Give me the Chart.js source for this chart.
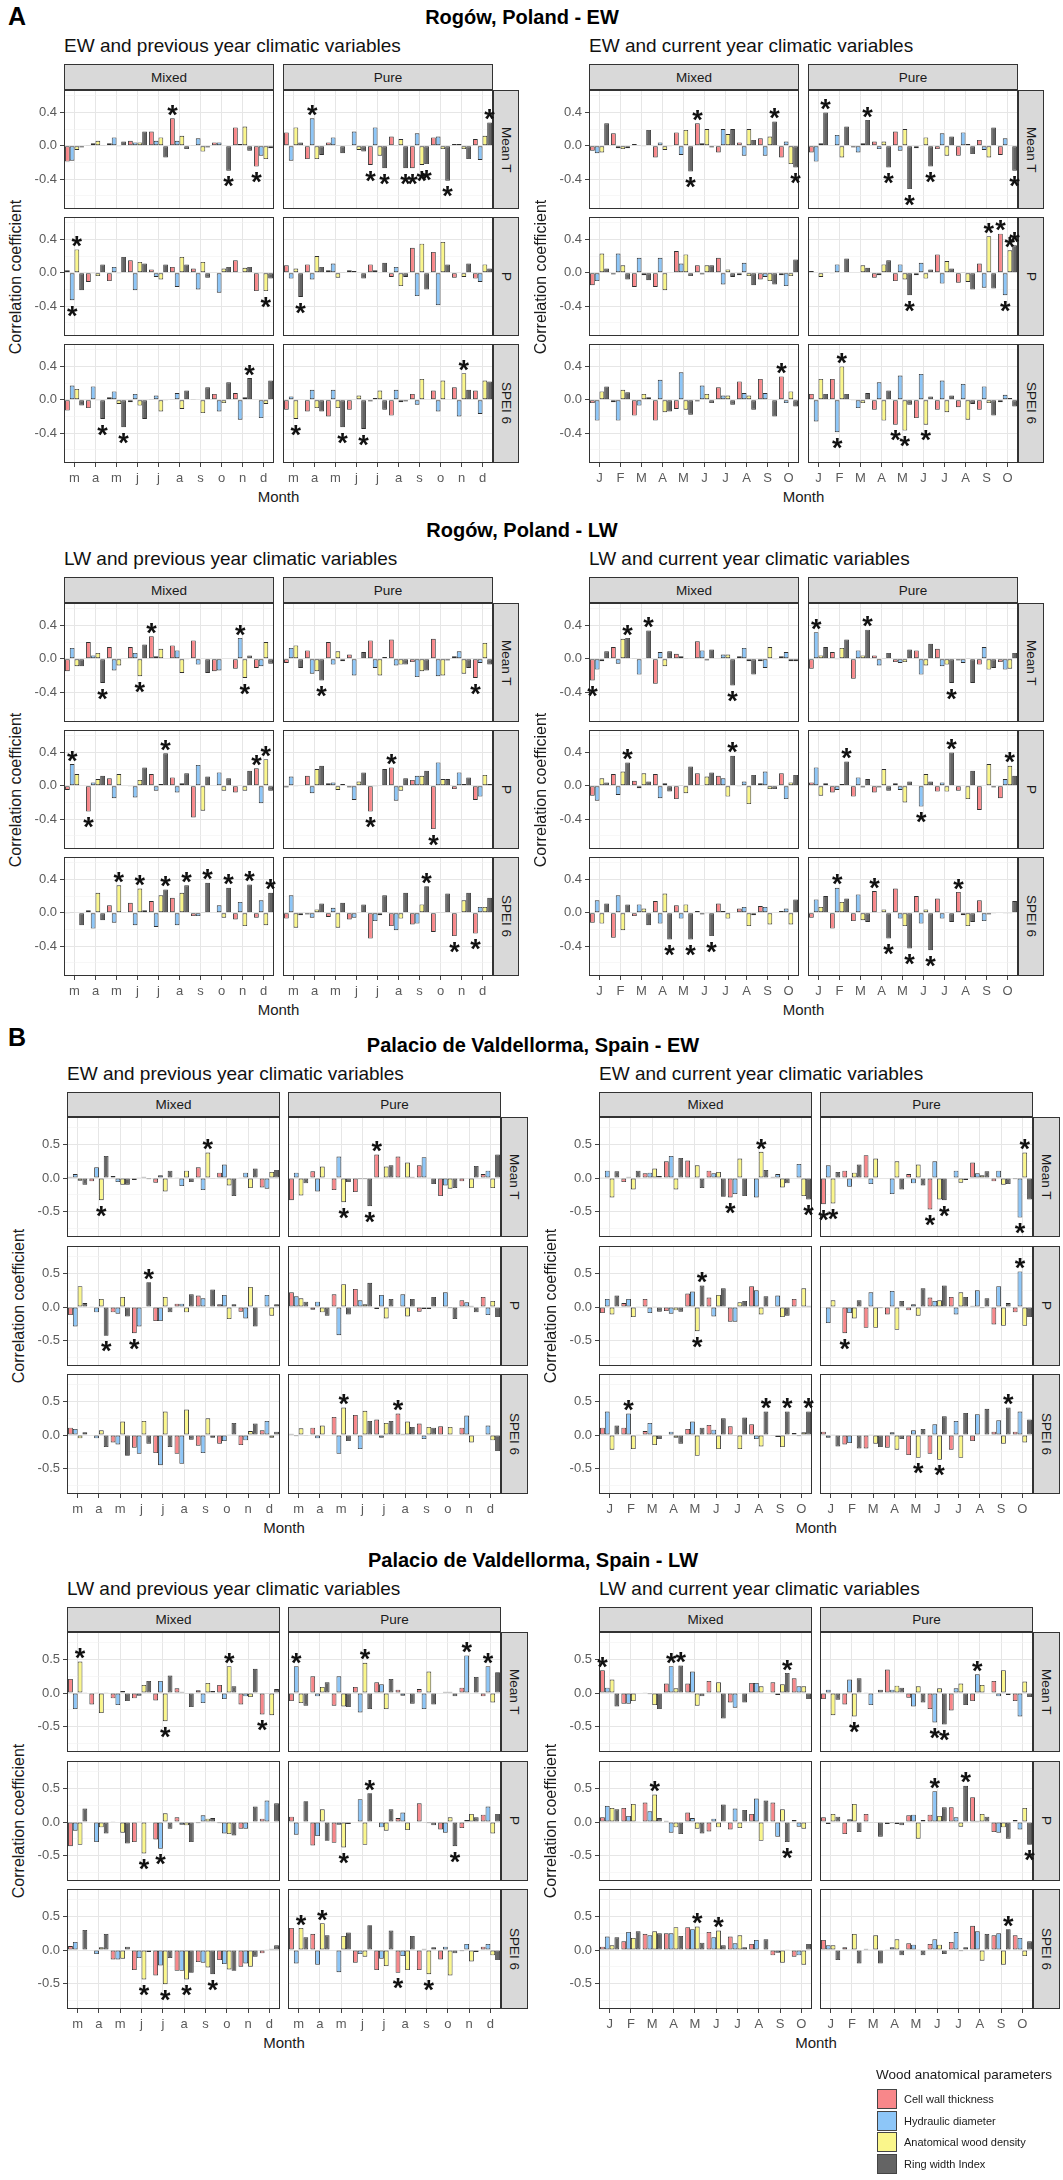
<!DOCTYPE html>
<html>
<head>
<meta charset="utf-8">
<script src="https://cdn.jsdelivr.net/npm/chart.js@4.4.1/dist/chart.umd.min.js"></script>
<style>
  body { margin: 0; background: #fff; font-family: "Liberation Sans", Arial, sans-serif; }
  #fig { position: relative; width: 1063px; height: 2180px; overflow: hidden; }
  .t { position: absolute; white-space: nowrap; line-height: 1; color: #000; }
  .strip { position: absolute; box-sizing: border-box; background: #D9D9D9; border: 1px solid #333;
           display: flex; align-items: center; justify-content: center; font-size: 13.5px; color: #1A1A1A; }
  .strip.v span { writing-mode: vertical-rl; }
  canvas { position: absolute; }
</style>
</head>
<body>
<div id="fig"></div>
<script>
// months, series and tick values
const prevMonths = ['m', 'a', 'm', 'j', 'j', 'a', 's', 'o', 'n', 'd'];
const curMonths = ['J', 'F', 'M', 'A', 'M', 'J', 'J', 'A', 'S', 'O'];
const seriesNames = ['Cell wall thickness', 'Hydraulic diameter', 'Anatomical wood density', 'Ring width Index'];
const stands = ['Mixed', 'Pure'];
const variables = ['Mean T', 'P', 'SPEI 6'];
const rogowTicks = [-0.6, -0.4, -0.2, 0, 0.2, 0.4, 0.6];
const palacioTicks = [-0.75, -0.5, -0.25, 0, 0.25, 0.5, 0.75];

// each row = one month: [cell wall, hydraulic diam., wood density, ring width]
// *Sig = [month, series] pairs marked with an asterisk

// ---- Rogów EW, previous year
const rogEwPrevMixT = [[-0.19,-0.18,-0.05,-0.02],[0.01,0.03,0.06,0.01],[0.03,0.10,-0.01,0.05],[0.06,0.04,0.04,0.17],[0.17,0.06,0.10,-0.14],[0.33,0.06,0.12,-0.04],[0.01,0.09,-0.07,-0.02],[0.04,0.04,0.00,-0.30],[0.22,0.02,0.23,-0.06],[-0.25,-0.12,-0.16,-0.03]];
const rogEwPrevPurT = [[0.16,-0.18,0.22,0.04],[-0.16,0.33,-0.16,-0.11],[0.04,0.10,0.01,-0.09],[0.00,0.17,-0.05,-0.07],[-0.23,0.22,-0.12,-0.27],[0.11,0.01,0.08,-0.27],[-0.27,0.15,-0.23,-0.22],[0.10,0.11,-0.04,-0.42],[0.02,0.02,-0.04,-0.16],[0.08,-0.17,0.12,0.28]];
const rogEwPrevMixP = [[0.03,-0.33,0.28,-0.21],[-0.11,-0.01,-0.04,0.10],[-0.10,0.07,-0.01,0.19],[0.15,-0.21,0.13,0.11],[0.04,-0.05,-0.08,0.10],[0.07,-0.17,0.19,0.10],[0.05,-0.20,0.13,-0.06],[0.00,-0.24,0.05,0.07],[0.15,0.00,0.06,0.07],[-0.22,-0.01,-0.22,-0.07]];
const rogEwPrevPurP = [[0.09,-0.07,0.05,-0.29],[0.10,-0.08,0.20,0.07],[0.03,0.11,-0.06,0.01],[0.03,0.02,0.00,-0.07],[0.10,0.03,0.00,0.12],[-0.05,0.07,-0.16,-0.05],[0.30,-0.28,0.35,-0.20],[0.25,-0.39,0.37,0.10],[-0.06,0.00,-0.05,0.11],[-0.07,-0.11,0.10,0.05]];
const rogEwPrevMixS = [[-0.13,0.17,0.13,-0.07],[-0.10,0.16,-0.01,-0.23],[0.03,0.10,-0.05,-0.33],[-0.03,0.07,-0.07,-0.23],[0.01,0.05,-0.14,-0.01],[0.01,0.08,-0.11,0.11],[0.01,0.00,-0.16,0.15],[0.07,-0.14,-0.04,0.21],[0.08,-0.24,0.03,0.26],[0.00,-0.22,-0.05,0.23]];
const rogEwPrevPurS = [[-0.12,0.04,-0.23,0.00],[-0.14,0.12,-0.10,-0.14],[-0.20,0.12,-0.10,-0.33],[-0.12,0.00,0.05,-0.35],[-0.02,0.02,0.11,-0.12],[-0.19,0.12,-0.03,-0.02],[0.07,-0.06,0.25,0.00],[0.11,-0.14,0.23,0.00],[0.15,-0.20,0.32,0.12],[0.11,-0.17,0.23,0.22]];
const rogEwPrevMixTSig = [[5,0],[7,3],[9,0]];
const rogEwPrevPurTSig = [[1,1],[4,0],[4,3],[5,3],[6,0],[6,2],[6,3],[7,3],[9,3]];
const rogEwPrevMixPSig = [[0,1],[0,2],[9,2]];
const rogEwPrevPurPSig = [[0,3]];
const rogEwPrevMixSSig = [[1,3],[2,3],[8,3]];
const rogEwPrevPurSSig = [[0,2],[2,3],[3,3],[8,2]];

// ---- Rogów EW, current year
const rogEwCurMixT = [[-0.06,-0.09,-0.08,0.27],[0.15,-0.03,-0.04,-0.03],[0.02,0.01,-0.01,0.19],[-0.14,0.04,-0.05,-0.01],[0.16,-0.11,0.19,-0.31],[0.27,0.03,0.20,-0.02],[-0.08,0.20,0.14,0.20],[0.04,-0.12,0.20,0.07],[0.09,-0.12,0.11,0.29],[-0.14,0.05,-0.22,-0.26]];
const rogEwCurPurT = [[-0.08,-0.19,0.03,0.40],[0.00,0.13,-0.14,0.23],[-0.02,-0.08,0.03,0.31],[0.05,-0.04,0.05,-0.26],[0.17,-0.06,0.20,-0.52],[-0.03,0.00,0.10,-0.25],[-0.04,0.15,-0.12,0.11],[-0.12,0.16,0.02,-0.10],[0.07,-0.05,-0.14,0.22],[-0.11,0.09,0.00,-0.30]];
const rogEwCurMixP = [[-0.15,-0.10,0.23,0.05],[-0.02,0.23,0.09,-0.08],[-0.17,0.18,-0.03,-0.09],[-0.17,0.18,-0.21,0.00],[0.26,0.11,0.22,-0.04],[0.09,-0.02,0.09,0.09],[0.18,-0.14,0.04,-0.05],[-0.03,0.12,-0.04,-0.15],[-0.08,-0.05,-0.10,-0.14],[-0.03,-0.16,-0.04,0.16]];
const rogEwCurPurP = [[0.02,0.00,-0.05,0.01],[-0.01,0.10,0.00,0.17],[0.00,0.00,0.09,0.06],[-0.06,-0.03,0.10,0.15],[-0.10,0.10,-0.08,-0.27],[-0.03,0.12,-0.07,0.04],[0.22,-0.13,0.14,0.05],[-0.12,0.01,-0.11,-0.20],[0.11,-0.18,0.44,-0.19],[0.47,-0.27,0.27,0.33]];
const rogEwCurMixS = [[-0.04,-0.25,0.10,0.16],[-0.03,-0.25,0.12,0.09],[-0.19,-0.07,0.07,0.03],[-0.25,0.24,-0.15,-0.14],[-0.11,0.33,-0.12,-0.18],[-0.02,0.17,0.07,-0.04],[0.15,0.05,0.05,-0.06],[0.22,0.08,0.05,-0.12],[0.25,0.08,0.00,-0.20],[0.28,-0.04,0.10,-0.08]];
const rogEwCurPurS = [[0.07,-0.26,0.25,0.07],[0.25,-0.39,0.40,0.07],[-0.01,-0.10,-0.04,0.08],[-0.12,0.21,-0.25,0.11],[-0.30,0.29,-0.37,-0.06],[-0.22,0.31,-0.30,0.04],[-0.12,0.23,-0.15,0.05],[-0.09,0.19,-0.24,-0.05],[-0.12,0.16,-0.04,-0.19],[-0.03,0.06,0.02,-0.08]];
const rogEwCurMixTSig = [[4,3],[5,0],[8,3],[9,3]];
const rogEwCurPurTSig = [[0,3],[2,3],[3,3],[4,3],[5,3],[9,3]];
const rogEwCurMixPSig = [];
const rogEwCurPurPSig = [[4,3],[8,2],[9,0],[9,1],[9,2],[9,3]];
const rogEwCurMixSSig = [[9,0]];
const rogEwCurPurSSig = [[1,1],[1,2],[4,0],[4,2],[5,2]];

// ---- Rogów LW, previous year
const rogLwPrevMixT = [[-0.15,0.13,-0.09,-0.09],[0.20,0.04,0.07,-0.29],[0.14,-0.14,-0.08,0.00],[0.14,0.07,-0.21,0.17],[0.27,0.03,0.12,0.00],[0.16,0.10,-0.17,-0.01],[0.22,-0.07,0.00,-0.17],[-0.15,-0.14,0.00,0.00],[-0.12,0.25,-0.23,0.04],[-0.11,-0.09,0.20,-0.06]];
const rogLwPrevPurT = [[-0.05,0.13,0.16,-0.11],[0.10,-0.18,-0.15,-0.26],[0.20,-0.07,0.09,-0.03],[0.05,-0.20,0.00,0.08],[0.22,-0.11,-0.20,0.02],[0.23,-0.08,-0.07,-0.07],[-0.04,-0.22,-0.15,-0.14],[0.24,-0.21,-0.20,-0.02],[0.03,0.09,-0.18,-0.11],[-0.23,-0.05,0.19,-0.07]];
const rogLwPrevMixP = [[-0.05,0.26,0.14,0.00],[-0.31,0.04,0.08,0.12],[0.09,-0.15,0.14,0.00],[-0.01,-0.14,0.07,0.22],[0.14,-0.06,0.02,0.39],[0.10,-0.08,0.03,0.15],[-0.38,0.25,-0.30,0.11],[0.00,0.16,-0.06,0.09],[-0.08,0.00,-0.06,0.18],[0.21,-0.21,0.32,-0.06]];
const rogLwPrevPurP = [[-0.02,0.11,-0.01,0.00],[0.12,-0.09,0.20,0.24],[0.03,0.04,-0.05,0.02],[-0.02,-0.17,0.05,0.16],[-0.31,-0.01,0.00,0.20],[0.22,-0.18,-0.06,0.09],[0.07,0.12,0.12,0.18],[-0.52,0.28,0.08,0.08],[-0.04,0.16,0.02,0.10],[-0.17,-0.13,0.13,0.02]];
const rogLwPrevMixS = [[-0.01,0.01,0.00,-0.15],[0.03,-0.19,0.24,-0.09],[0.09,-0.12,0.33,0.01],[0.12,-0.15,0.29,0.03],[0.14,-0.17,0.21,0.28],[0.18,-0.15,0.24,0.33],[-0.04,-0.04,0.01,0.36],[0.00,0.09,-0.06,0.30],[-0.08,0.13,-0.16,0.34],[-0.06,0.15,-0.15,0.24]];
const rogLwPrevPurS = [[-0.07,0.21,-0.18,-0.03],[-0.02,-0.06,0.04,0.11],[-0.05,0.06,-0.18,0.12],[-0.08,-0.06,0.00,0.10],[-0.31,-0.10,-0.03,0.21],[-0.16,-0.21,-0.07,0.24],[-0.14,-0.13,0.10,0.32],[-0.23,0.01,0.01,0.23],[-0.28,0.00,0.15,0.24],[-0.25,0.07,0.07,0.18]];
const rogLwPrevMixTSig = [[1,3],[3,2],[4,0],[8,1],[8,2]];
const rogLwPrevPurTSig = [[1,3],[9,0]];
const rogLwPrevMixPSig = [[0,1],[1,0],[4,3],[9,0],[9,2]];
const rogLwPrevPurPSig = [[4,0],[5,0],[7,0]];
const rogLwPrevMixSSig = [[2,2],[3,2],[4,3],[5,3],[6,3],[7,3],[8,3],[9,3]];
const rogLwPrevPurSSig = [[6,3],[8,0],[9,0]];

// ---- Rogów LW, current year
const rogLwCurMixT = [[-0.26,-0.13,-0.03,0.09],[0.14,-0.06,0.24,0.25],[0.01,-0.19,0.00,0.34],[-0.30,0.08,-0.09,0.09],[0.06,0.03,0.01,0.00],[0.21,0.10,-0.02,0.11],[0.00,0.05,0.05,-0.32],[0.03,0.13,-0.03,-0.19],[-0.03,-0.11,0.14,-0.01],[0.03,0.08,-0.03,-0.03]];
const rogLwCurPurT = [[-0.12,0.32,0.04,0.14],[0.08,-0.01,0.13,0.23],[-0.24,0.10,0.04,0.35],[0.04,-0.08,0.01,0.07],[-0.04,-0.05,-0.04,0.11],[0.10,-0.19,-0.08,0.18],[0.12,-0.09,-0.07,-0.29],[-0.02,-0.05,0.01,-0.29],[-0.07,0.14,-0.13,-0.11],[-0.04,-0.13,-0.12,0.07]];
const rogLwCurMixP = [[-0.12,-0.18,0.09,0.04],[0.14,-0.11,0.17,0.28],[0.06,-0.03,0.15,0.05],[0.14,-0.15,0.03,-0.07],[-0.16,0.01,-0.09,0.23],[0.15,0.00,0.11,0.16],[0.12,0.09,-0.13,0.36],[-0.01,0.05,-0.22,0.13],[0.03,0.17,-0.04,-0.04],[0.15,-0.16,0.04,0.13]];
const rogLwCurPurP = [[0.04,0.22,-0.12,0.03],[-0.08,-0.05,0.02,0.29],[-0.13,0.10,-0.02,0.08],[-0.08,-0.02,0.20,-0.06],[0.03,-0.05,-0.20,0.05],[0.00,-0.25,0.14,0.05],[-0.07,0.04,-0.07,0.40],[-0.06,0.00,-0.16,0.18],[-0.29,0.00,0.26,-0.02],[-0.15,0.08,0.24,0.12]];
const rogLwCurMixS = [[-0.12,0.15,-0.13,0.11],[-0.30,0.21,-0.21,0.10],[-0.04,0.10,0.05,-0.15],[0.14,-0.13,0.23,-0.32],[0.09,-0.07,0.10,-0.32],[0.02,-0.02,-0.01,-0.28],[0.11,0.02,-0.07,0.00],[0.05,0.07,-0.16,-0.03],[0.08,0.07,-0.14,0.00],[0.02,0.05,-0.14,0.16]];
const rogLwCurPurS = [[-0.06,0.16,0.07,0.20],[-0.19,0.30,0.13,0.17],[-0.10,0.22,-0.09,-0.11],[0.26,0.00,0.04,-0.31],[0.29,-0.07,-0.16,-0.43],[0.20,-0.13,0.04,-0.45],[0.17,-0.07,0.01,-0.11],[0.25,-0.03,-0.16,-0.11],[0.15,-0.10,-0.02,-0.01],[0.00,-0.01,-0.01,0.14]];
const rogLwCurMixTSig = [[0,0],[1,3],[2,3],[6,3]];
const rogLwCurPurTSig = [[0,1],[2,3],[6,3]];
const rogLwCurMixPSig = [[1,3],[6,3]];
const rogLwCurPurPSig = [[1,3],[5,1],[6,3],[9,2]];
const rogLwCurMixSSig = [[3,3],[4,3],[5,3]];
const rogLwCurPurSSig = [[1,1],[3,0],[3,3],[4,3],[5,3],[7,0]];

// ---- Palacio de Valdellorma EW, previous year
const palEwPrevMixT = [[0.02,0.06,-0.04,-0.10],[-0.05,0.16,-0.33,0.33],[0.03,-0.06,-0.10,-0.10],[-0.03,0.01,0.02,-0.02],[-0.07,0.04,-0.20,0.11],[0.01,-0.12,0.11,-0.06],[0.16,-0.18,0.38,-0.01],[0.08,0.20,-0.11,-0.27],[0.01,0.08,-0.15,0.14],[-0.14,-0.16,0.09,0.12]];
const palEwPrevPurT = [[-0.33,0.08,-0.26,-0.08],[0.10,-0.20,0.17,0.00],[-0.18,0.32,-0.36,-0.06],[-0.21,-0.02,-0.02,-0.42],[0.35,0.01,0.17,0.19],[0.32,0.01,0.23,0.02],[0.19,0.31,0.01,-0.09],[-0.27,-0.11,-0.16,-0.15],[-0.05,0.00,-0.15,0.18],[0.06,0.11,-0.15,0.35]];
const palEwPrevMixP = [[-0.12,-0.29,0.31,0.06],[0.01,-0.08,0.12,-0.43],[-0.08,-0.10,0.15,-0.14],[-0.39,-0.29,-0.01,0.37],[-0.21,-0.21,0.15,-0.08],[0.05,0.05,-0.08,0.19],[0.17,0.13,-0.01,0.26],[0.04,0.18,-0.18,0.04],[-0.07,-0.17,0.30,-0.29],[0.00,0.18,-0.13,0.04]];
const palEwPrevPurP = [[0.22,0.16,0.13,0.08],[-0.04,0.08,-0.08,-0.13],[0.19,-0.42,0.34,-0.11],[0.27,0.10,0.04,0.36],[-0.03,0.18,-0.17,0.12],[0.00,0.19,-0.14,0.12],[-0.07,-0.03,-0.03,0.15],[0.00,0.22,-0.02,-0.18],[0.10,0.07,0.02,-0.08],[0.15,-0.12,0.09,-0.15]];
const palEwPrevMixS = [[0.11,0.09,-0.05,0.04],[0.00,-0.05,0.07,-0.18],[-0.11,-0.14,0.20,-0.31],[-0.19,-0.28,0.21,-0.13],[-0.27,-0.45,0.35,-0.18],[-0.28,-0.43,0.38,-0.07],[-0.16,-0.27,0.25,-0.04],[-0.13,-0.09,0.01,0.18],[-0.15,-0.08,0.06,0.17],[0.07,0.21,-0.04,0.05]];
const palEwPrevPurS = [[0.02,-0.02,0.10,-0.01],[0.11,-0.05,0.14,0.00],[0.27,-0.28,0.41,-0.09],[0.30,-0.21,0.36,0.21],[0.23,-0.04,0.18,0.21],[0.32,0.02,0.20,0.12],[0.17,-0.06,0.12,0.11],[0.13,-0.01,0.12,0.00],[0.11,0.29,-0.11,0.00],[0.00,0.14,-0.08,-0.24]];
const palEwPrevMixTSig = [[1,2],[6,2]];
const palEwPrevPurTSig = [[2,2],[3,3],[4,0]];
const palEwPrevMixPSig = [[1,3],[3,0],[3,3]];
const palEwPrevPurPSig = [];
const palEwPrevMixSSig = [];
const palEwPrevPurSSig = [[2,2],[5,0]];

// ---- Palacio de Valdellorma EW, current year
const palEwCurMixT = [[0.01,0.11,-0.29,0.10],[-0.06,0.02,-0.17,0.11],[0.07,0.08,0.14,0.03],[0.25,0.33,-0.17,0.30],[0.26,0.01,0.19,-0.15],[0.11,0.07,0.09,-0.28],[-0.29,-0.24,0.29,-0.27],[0.00,-0.29,0.39,0.12],[0.02,0.06,-0.14,-0.08],[0.00,0.21,-0.27,-0.32]];
const palEwCurPurT = [[-0.39,0.19,-0.38,0.09],[0.11,-0.13,0.08,0.20],[0.34,-0.09,0.29,0.00],[0.00,-0.24,0.25,-0.17],[0.06,-0.08,0.20,-0.11],[-0.47,0.25,-0.32,-0.33],[0.00,0.11,-0.07,-0.03],[0.23,0.07,0.04,0.10],[-0.05,0.11,-0.10,-0.09],[-0.02,-0.59,0.38,-0.32]];
const palEwCurMixP = [[-0.09,0.12,-0.11,0.17],[0.06,0.12,-0.15,0.01],[0.12,-0.09,0.01,-0.07],[-0.06,-0.10,-0.05,-0.07],[0.20,0.23,-0.36,0.32],[0.14,-0.14,0.18,0.28],[-0.22,-0.22,0.07,0.09],[0.31,0.25,-0.11,0.16],[-0.01,0.17,-0.15,-0.13],[0.12,0.00,0.28,0.02]];
const palEwCurPurP = [[0.00,-0.24,0.10,0.00],[-0.39,-0.09,-0.17,0.10],[-0.31,0.22,-0.31,-0.02],[-0.11,0.24,-0.34,0.09],[-0.05,0.04,-0.13,0.28],[0.14,0.09,0.10,0.32],[0.15,-0.11,0.22,0.15],[0.02,0.25,-0.02,0.13],[-0.26,0.31,-0.28,0.06],[-0.08,0.53,-0.28,-0.15]];
const palEwCurMixS = [[0.11,0.35,-0.22,0.14],[0.11,0.32,-0.21,0.01],[0.06,0.18,-0.15,-0.06],[0.00,0.05,-0.04,-0.13],[0.09,0.20,-0.31,0.11],[0.15,0.08,-0.21,0.25],[0.13,-0.01,-0.21,0.26],[0.16,-0.06,-0.17,0.35],[-0.01,-0.03,-0.18,0.35],[0.03,-0.02,0.04,0.35]];
const palEwCurPurS = [[0.05,-0.04,0.01,-0.17],[-0.14,-0.12,-0.01,-0.20],[-0.20,0.01,-0.13,-0.18],[-0.19,0.04,-0.22,-0.06],[-0.30,0.07,-0.34,0.09],[-0.28,0.16,-0.37,0.28],[-0.22,0.21,-0.34,0.33],[-0.09,0.31,0.00,0.39],[0.05,0.22,-0.13,0.41],[0.05,0.35,-0.11,0.23]];
const palEwCurMixTSig = [[6,0],[7,2],[9,3]];
const palEwCurPurTSig = [[0,0],[0,2],[5,0],[5,3],[9,1],[9,2]];
const palEwCurMixPSig = [[4,2],[4,3]];
const palEwCurPurPSig = [[1,0],[9,1]];
const palEwCurMixSSig = [[1,1],[7,3],[8,3],[9,3]];
const palEwCurPurSSig = [[4,2],[5,2],[8,3]];

// ---- Palacio de Valdellorma LW, previous year
const palLwPrevMixT = [[0.21,-0.24,0.47,0.01],[-0.17,0.01,-0.30,0.01],[-0.08,-0.18,0.03,-0.12],[-0.08,-0.04,0.12,0.18],[-0.11,0.18,-0.42,0.26],[0.07,0.02,-0.01,-0.21],[0.04,-0.15,0.15,0.03],[0.12,-0.09,0.40,0.10],[-0.17,-0.05,-0.06,0.36],[-0.32,-0.01,-0.33,0.06]];
const palLwPrevPurT = [[-0.12,0.40,-0.15,-0.19],[0.25,-0.05,0.09,0.16],[-0.19,0.25,-0.20,-0.21],[0.09,-0.29,0.45,-0.24],[0.16,0.13,-0.24,0.21],[0.05,-0.04,-0.01,-0.16],[0.06,-0.24,0.32,-0.17],[0.00,0.02,0.02,-0.05],[0.08,0.56,0.00,0.24],[-0.05,0.40,-0.14,0.31]];
const palLwPrevMixP = [[-0.36,-0.13,-0.34,0.20],[0.00,-0.30,-0.08,-0.17],[0.01,0.00,-0.16,-0.32],[-0.30,0.01,-0.47,0.00],[-0.26,-0.40,0.13,-0.10],[0.07,-0.04,-0.05,-0.30],[-0.02,0.10,0.05,0.06],[-0.02,-0.17,-0.18,-0.20],[-0.10,-0.10,0.00,0.23],[0.05,0.32,0.00,0.28]];
const palLwPrevPurP = [[0.08,-0.19,0.00,0.31],[-0.35,-0.21,0.19,-0.28],[-0.31,-0.04,-0.38,-0.03],[0.00,0.34,-0.34,0.43],[0.00,-0.08,-0.13,0.19],[0.06,0.14,-0.12,0.00],[0.28,-0.01,-0.02,-0.05],[-0.11,-0.16,0.07,-0.36],[-0.09,0.03,0.12,0.07],[0.11,0.23,-0.17,0.12]];
const palLwPrevMixS = [[0.06,0.12,0.00,0.30],[0.00,-0.06,0.04,0.24],[-0.14,-0.14,-0.13,0.05],[-0.30,-0.12,-0.44,-0.03],[-0.38,-0.23,-0.51,-0.12],[-0.31,-0.31,-0.44,-0.34],[-0.18,-0.19,-0.26,-0.36],[-0.15,-0.21,-0.29,-0.31],[-0.25,-0.20,-0.25,-0.10],[-0.05,0.01,0.02,0.07]];
const palLwPrevPurS = [[0.33,-0.20,0.33,0.19],[0.24,-0.22,0.40,0.22],[0.00,-0.33,0.21,0.26],[-0.19,-0.06,-0.10,0.37],[-0.30,-0.13,-0.24,0.29],[-0.34,-0.09,-0.30,0.21],[-0.30,0.02,-0.36,0.04],[-0.14,0.05,-0.38,-0.05],[-0.02,0.09,-0.17,-0.03],[0.05,0.09,-0.08,-0.15]];
const palLwPrevMixTSig = [[0,2],[4,2],[7,2],[9,0]];
const palLwPrevPurTSig = [[0,1],[3,2],[8,1],[9,1]];
const palLwPrevMixPSig = [[3,2],[4,1]];
const palLwPrevPurPSig = [[2,2],[3,3],[7,3]];
const palLwPrevMixSSig = [[3,2],[4,2],[5,2],[6,3]];
const palLwPrevPurSSig = [[0,2],[1,2],[5,0],[6,2]];

// ---- Palacio de Valdellorma LW, current year
const palLwCurMixT = [[0.34,0.08,0.20,-0.20],[-0.16,-0.16,-0.12,0.00],[0.01,-0.02,-0.18,-0.24],[0.14,0.40,0.07,0.41],[0.14,0.32,-0.19,-0.05],[0.18,0.01,0.16,-0.38],[-0.14,-0.22,0.00,-0.14],[0.15,0.15,0.10,0.00],[0.16,-0.03,0.13,0.30],[0.22,0.10,0.10,-0.09]];
const palLwCurPurT = [[-0.09,0.05,-0.33,-0.10],[-0.17,0.20,-0.35,0.22],[0.01,-0.18,0.00,0.05],[0.35,0.05,0.11,0.08],[-0.07,-0.20,0.10,-0.14],[-0.24,-0.44,0.07,-0.47],[-0.26,0.07,0.14,-0.18],[-0.12,0.28,0.12,0.00],[0.18,-0.05,0.34,-0.03],[-0.12,-0.35,0.17,-0.06]];
const palLwCurMixP = [[0.07,0.24,0.21,0.19],[0.21,0.09,0.27,0.01],[0.29,0.16,0.41,0.06],[0.02,-0.16,-0.08,-0.18],[0.14,0.06,-0.10,-0.17],[-0.14,0.05,-0.08,0.26],[-0.11,0.20,-0.09,0.18],[0.12,0.35,-0.28,0.32],[0.29,-0.22,0.19,-0.30],[0.03,-0.07,-0.10,-0.01]];
const palLwCurPurP = [[0.07,-0.03,0.12,0.08],[-0.18,0.04,0.27,-0.15],[0.12,-0.01,-0.01,-0.22],[-0.03,-0.02,-0.03,-0.05],[0.10,0.11,-0.25,0.03],[0.11,0.46,0.09,0.22],[0.22,0.07,-0.07,0.54],[0.37,0.02,0.12,0.08],[-0.15,-0.16,-0.08,-0.25],[0.03,-0.11,0.21,-0.34]];
const palLwCurMixS = [[0.05,0.20,0.07,0.19],[0.13,0.27,0.18,0.28],[0.24,0.22,0.28,0.25],[0.25,0.25,0.34,0.21],[0.34,0.31,0.35,0.11],[0.27,0.19,0.29,0.07],[0.20,0.10,0.22,0.04],[0.09,0.15,0.00,0.16],[-0.08,-0.04,-0.19,0.01],[-0.10,-0.08,-0.22,0.09]];
const palLwCurPurS = [[0.15,0.07,0.07,-0.15],[0.04,0.01,0.24,-0.20],[0.02,0.01,0.22,-0.20],[0.01,0.04,0.16,-0.08],[0.10,0.08,0.01,-0.08],[0.09,0.16,0.08,-0.06],[0.12,0.27,-0.02,0.04],[0.36,0.28,-0.16,0.24],[0.22,0.25,-0.22,0.31],[0.22,0.18,-0.09,0.13]];
const palLwCurMixTSig = [[0,0],[3,1],[3,3],[8,3]];
const palLwCurPurTSig = [[1,2],[5,1],[5,3],[7,1]];
const palLwCurMixPSig = [[2,2],[8,3]];
const palLwCurPurPSig = [[5,1],[6,3],[9,3]];
const palLwCurMixSSig = [[4,2],[5,2]];
const palLwCurPurSSig = [[8,3]];

// ---- look
const seriesColors = ['#F8878A', '#8DC6F8', '#FAF68B', '#646464'];
Chart.defaults.font.family = '"Liberation Sans", Arial, sans-serif';

// the two figure blocks were exported at slightly different widths
const geoA = { mixL: 64, pureL: 283, pw: 210, stripW: 26, shift: 525, ph: 119, rows: [73, 200, 327],
               stripH: 26, titleX: 522, yTitleX: 16, min: -0.76, max: 0.67, ticks: rogowTicks, major: 0.4 };
const geoB = { mixL: 67, pureL: 288, pw: 213, stripW: 27, shift: 532, ph: 120, rows: [72, 201, 329],
               stripH: 25, titleX: 533, yTitleX: 19, min: -0.88, max: 0.91, ticks: palacioTicks, major: 0.5 };

const titles = [
  { text: 'Rogów, Poland - EW', top: 17, geo: geoA },
  { text: 'Rogów, Poland - LW', top: 530, geo: geoA },
  { text: 'Palacio de Valdellorma, Spain - EW', top: 1045, geo: geoB },
  { text: 'Palacio de Valdellorma, Spain - LW', top: 1560, geo: geoB }
];

const halves = [
  { top: 17, geo: geoA, right: false, sub: 'EW and previous year climatic variables', months: prevMonths,
    panels: [[rogEwPrevMixT, rogEwPrevPurT], [rogEwPrevMixP, rogEwPrevPurP], [rogEwPrevMixS, rogEwPrevPurS]],
    sig: [[rogEwPrevMixTSig, rogEwPrevPurTSig], [rogEwPrevMixPSig, rogEwPrevPurPSig], [rogEwPrevMixSSig, rogEwPrevPurSSig]] },
  { top: 17, geo: geoA, right: true, sub: 'EW and current year climatic variables', months: curMonths,
    panels: [[rogEwCurMixT, rogEwCurPurT], [rogEwCurMixP, rogEwCurPurP], [rogEwCurMixS, rogEwCurPurS]],
    sig: [[rogEwCurMixTSig, rogEwCurPurTSig], [rogEwCurMixPSig, rogEwCurPurPSig], [rogEwCurMixSSig, rogEwCurPurSSig]] },
  { top: 530, geo: geoA, right: false, sub: 'LW and previous year climatic variables', months: prevMonths,
    panels: [[rogLwPrevMixT, rogLwPrevPurT], [rogLwPrevMixP, rogLwPrevPurP], [rogLwPrevMixS, rogLwPrevPurS]],
    sig: [[rogLwPrevMixTSig, rogLwPrevPurTSig], [rogLwPrevMixPSig, rogLwPrevPurPSig], [rogLwPrevMixSSig, rogLwPrevPurSSig]] },
  { top: 530, geo: geoA, right: true, sub: 'LW and current year climatic variables', months: curMonths,
    panels: [[rogLwCurMixT, rogLwCurPurT], [rogLwCurMixP, rogLwCurPurP], [rogLwCurMixS, rogLwCurPurS]],
    sig: [[rogLwCurMixTSig, rogLwCurPurTSig], [rogLwCurMixPSig, rogLwCurPurPSig], [rogLwCurMixSSig, rogLwCurPurSSig]] },
  { top: 1045, geo: geoB, right: false, sub: 'EW and previous year climatic variables', months: prevMonths,
    panels: [[palEwPrevMixT, palEwPrevPurT], [palEwPrevMixP, palEwPrevPurP], [palEwPrevMixS, palEwPrevPurS]],
    sig: [[palEwPrevMixTSig, palEwPrevPurTSig], [palEwPrevMixPSig, palEwPrevPurPSig], [palEwPrevMixSSig, palEwPrevPurSSig]] },
  { top: 1045, geo: geoB, right: true, sub: 'EW and current year climatic variables', months: curMonths,
    panels: [[palEwCurMixT, palEwCurPurT], [palEwCurMixP, palEwCurPurP], [palEwCurMixS, palEwCurPurS]],
    sig: [[palEwCurMixTSig, palEwCurPurTSig], [palEwCurMixPSig, palEwCurPurPSig], [palEwCurMixSSig, palEwCurPurSSig]] },
  { top: 1560, geo: geoB, right: false, sub: 'LW and previous year climatic variables', months: prevMonths,
    panels: [[palLwPrevMixT, palLwPrevPurT], [palLwPrevMixP, palLwPrevPurP], [palLwPrevMixS, palLwPrevPurS]],
    sig: [[palLwPrevMixTSig, palLwPrevPurTSig], [palLwPrevMixPSig, palLwPrevPurPSig], [palLwPrevMixSSig, palLwPrevPurSSig]] },
  { top: 1560, geo: geoB, right: true, sub: 'LW and current year climatic variables', months: curMonths,
    panels: [[palLwCurMixT, palLwCurPurT], [palLwCurMixP, palLwCurPurP], [palLwCurMixS, palLwCurPurS]],
    sig: [[palLwCurMixTSig, palLwCurPurTSig], [palLwCurMixPSig, palLwCurPurPSig], [palLwCurMixSSig, palLwCurPurSSig]] }
];

const fig = document.getElementById('fig');

function put(txt, x, y, css, transform) {
  const d = document.createElement('div');
  d.className = 't';
  d.textContent = txt;
  d.style.left = x + 'px';
  d.style.top = y + 'px';
  Object.assign(d.style, css || {});
  d.style.transform = transform || 'translate(0,-50%)';
  fig.appendChild(d);
  return d;
}

function strip(txt, x, y, w, h, vertical) {
  const d = document.createElement('div');
  d.className = 'strip' + (vertical ? ' v' : '');
  d.style.cssText += `left:${x}px;top:${y}px;width:${w}px;height:${h}px;`;
  const s = document.createElement('span');
  s.textContent = txt;
  d.appendChild(s);
  fig.appendChild(d);
}

// panel frame + asterisks on significant bars
const panelMarks = {
  id: 'panelMarks',
  afterDatasetsDraw(chart, args, opts) {
    const a = chart.chartArea, c = chart.ctx;
    c.save();
    c.strokeStyle = '#333';
    c.lineWidth = 1;
    c.strokeRect(Math.round(a.left) + 0.5, Math.round(a.top) + 0.5,
                 Math.round(a.right - a.left) - 1, Math.round(a.bottom - a.top) - 1);
    const fs = 27;
    c.fillStyle = '#111';
    c.font = `bold ${fs}px "Liberation Sans", Arial, sans-serif`;
    c.textAlign = 'center';
    c.textBaseline = 'alphabetic';
    (opts.sig || []).forEach(([m, s]) => {
      const bar = chart.getDatasetMeta(s).data[m];
      const v = chart.data.datasets[s].data[m];
      const cy = v >= 0 ? bar.y - 10 : bar.y + 9;
      c.fillText('*', bar.x, cy + 0.58 * fs);
    });
    c.restore();
  }
};
Chart.register(panelMarks);

function makePanel(rows, sig, months, geo, left, top, showY, showX) {
  const M = 10;
  const padL = showY ? 40 : 0;
  const padB = showX ? 24 : 0;
  const w = M + padL + geo.pw + M;
  const h = M + geo.ph + padB + M;
  const cv = document.createElement('canvas');
  cv.width = w;
  cv.height = h;
  cv.style.left = (left - padL - M) + 'px';
  cv.style.top = (top - M) + 'px';
  cv.style.width = w + 'px';
  cv.style.height = h + 'px';
  fig.appendChild(cv);

  const isMajor = v => Math.abs(v / geo.major - Math.round(v / geo.major)) < 1e-6;

  new Chart(cv, {
    type: 'bar',
    data: {
      labels: months,
      datasets: seriesNames.map((name, s) => ({
        label: name,
        data: rows.map(r => r[s]),
        backgroundColor: seriesColors[s],
        borderColor: '#2E2E2E',
        borderWidth: 0.9,
        borderSkipped: false,
        categoryPercentage: 0.9,
        barPercentage: 1.0
      }))
    },
    options: {
      responsive: false,
      animation: false,
      events: [],
      layout: { autoPadding: false, padding: { left: M, right: M, top: M, bottom: M } },
      plugins: { legend: { display: false }, tooltip: { enabled: false }, panelMarks: { sig: sig } },
      scales: {
        x: {
          offset: true,
          border: { display: false },
          grid: { offset: false, color: '#E6E6E6', lineWidth: 1, drawTicks: showX, tickLength: 4, tickColor: '#444' },
          ticks: { display: showX, color: '#5A5A5A', font: { size: 13 }, padding: 4, maxRotation: 0, autoSkip: false },
          afterFit(scale) { scale.height = padB; scale.paddingLeft = 0; scale.paddingRight = 0; }
        },
        y: {
          min: geo.min,
          max: geo.max,
          border: { display: false },
          afterBuildTicks(scale) { scale.ticks = geo.ticks.map(v => ({ value: v })); },
          grid: {
            color: ctx => (ctx.tick && isMajor(ctx.tick.value)) ? '#E6E6E6' : '#F1F1F1',
            lineWidth: ctx => (ctx.tick && isMajor(ctx.tick.value)) ? 1 : 0.6,
            drawTicks: showY,
            tickLength: 4,
            tickColor: ctx => (ctx.tick && isMajor(ctx.tick.value)) ? '#444' : 'rgba(0,0,0,0)'
          },
          ticks: {
            display: showY, color: '#5A5A5A', font: { size: 13 }, padding: 3,
            callback: v => isMajor(v) ? v.toFixed(1) : ''
          },
          afterFit(scale) { scale.width = padL; scale.paddingTop = 0; scale.paddingBottom = 0; }
        }
      }
    }
  });
}

// titles and letters
titles.forEach(t => put(t.text, t.geo.titleX, t.top, { fontSize: '20px', fontWeight: 'bold' }, 'translate(-50%,-50%)'));
put('A', 8, 16, { fontSize: '25px', fontWeight: 'bold' });
put('B', 8, 1037, { fontSize: '25px', fontWeight: 'bold' });

halves.forEach(hf => {
  const g = hf.geo;
  const X = hf.right ? g.shift : 0;
  const cols = [X + g.mixL, X + g.pureL];
  put(hf.sub, cols[0], hf.top + 28, { fontSize: '19px', color: '#111' });
  stands.forEach((s, c) => strip(s, cols[c], hf.top + 47, g.pw, g.stripH, false));
  variables.forEach((v, r) => strip(v, cols[1] + g.pw, hf.top + g.rows[r], g.stripW, g.ph, true));
  const bottom = hf.top + g.rows[2] + g.ph;
  put('Correlation coefficient', X + g.yTitleX, (hf.top + g.rows[0] + bottom) / 2,
      { fontSize: '16px', color: '#1A1A1A' }, 'translate(-50%,-50%) rotate(-90deg)');
  put('Month', (cols[0] + cols[1] + g.pw) / 2, bottom + 33, { fontSize: '15px', color: '#1A1A1A' }, 'translate(-50%,-50%)');
  for (let r = 0; r < 3; r++) {
    for (let c = 0; c < 2; c++) {
      makePanel(hf.panels[r][c], hf.sig[r][c], hf.months, g, cols[c], hf.top + g.rows[r], c === 0, r === 2);
    }
  }
});

// legend
put('Wood anatomical parameters', 876, 2075, { fontSize: '13.5px', color: '#1A1A1A' });
seriesNames.forEach((name, i) => {
  const y = 2089 + i * 21.7;
  const box = document.createElement('div');
  box.style.cssText = `position:absolute;left:877px;top:${y}px;width:20px;height:20px;box-sizing:border-box;` +
                      `background:${seriesColors[i]};border:1px solid #444;`;
  fig.appendChild(box);
  put(name, 904, y + 10, { fontSize: '11px', color: '#1A1A1A' });
});
</script>
</body>
</html>
